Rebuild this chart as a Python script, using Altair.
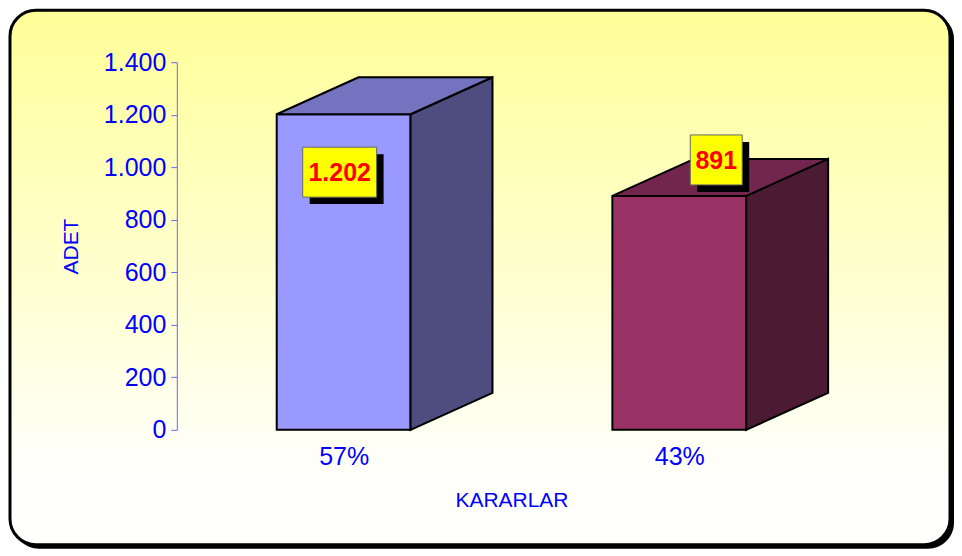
import altair as alt
import pandas as pd

# ---------------- data ----------------
categories = ["57%", "43%"]
values = [1202, 891]
value_labels = ["1.202", "891"]
y_ticks = [0, 200, 400, 600, 800, 1000, 1200, 1400]
front_colors = ["#9999FF", "#993366"]
side_colors = ["#4D4D80", "#4D1A33"]
top_colors = ["#7373BF", "#73264D"]

# ---------------- layout ----------------
W, H, YMAX = 670, 368, 1400
U = YMAX / H                 # value units per pixel
centers = [167, 503]         # bar centres in x-units (pixels)
BAR_W = 134
DX = 82
DY = 37 * U
LABEL_DX = [-4, 37]          # px offset of the label box from bar centre
LABEL_DY = [-58, 36]         # px offset of the label box from bar top
BOX_H = 50

front_rows, side_rows, top_rows, box_rows = [], [], [], []
for i, (cat, v) in enumerate(zip(categories, values)):
    x0 = centers[i] - BAR_W / 2
    x1 = centers[i] + BAR_W / 2
    front_rows.append(dict(cat=cat, x0=x0, x1=x1, y0=0, y1=v, fill=front_colors[i]))
    side_rows += [
        dict(cat=cat, x=x1, y=0, y2=v, fill=side_colors[i]),
        dict(cat=cat, x=x1 + DX, y=DY, y2=v + DY, fill=side_colors[i]),
    ]
    top_rows += [
        dict(cat=cat, y=v, x=x0, x2=x1, fill=top_colors[i]),
        dict(cat=cat, y=v + DY, x=x0 + DX, x2=x1 + DX, fill=top_colors[i]),
    ]
    cx = centers[i] + LABEL_DX[i]
    cy = v + LABEL_DY[i] * U
    bw = len(value_labels[i]) * 11 + 19
    box_rows.append(dict(cat=cat, label=value_labels[i], cx=cx, cy=cy,
                         bx0=cx - bw / 2, bx1=cx + bw / 2,
                         by0=cy - BOX_H / 2 * U, by1=cy + BOX_H / 2 * U,
                         sx0=cx - bw / 2 + 7, sx1=cx + bw / 2 + 7,
                         sy0=cy - BOX_H / 2 * U - 7 * U, sy1=cy + BOX_H / 2 * U - 7 * U))

front_df = pd.DataFrame(front_rows)
side_df = pd.DataFrame(side_rows)
top_df = pd.DataFrame(top_rows)
box_df = pd.DataFrame(box_rows)

xscale = alt.Scale(domain=[0, W], nice=False, zero=False)
yscale = alt.Scale(domain=[0, YMAX], nice=False)

label_expr = "''"
for c, lab in reversed(list(zip(centers, categories))):
    label_expr = f"datum.value == {c} ? '{lab}' : ({label_expr})"

x_axis = alt.Axis(values=centers, labelExpr=label_expr, domain=False, ticks=False,
                  grid=False, title="KARARLAR", labelFontSize=25, labelColor="#0000FF",
                  labelPadding=15, titleFontSize=21, titleColor="#0000FF",
                  titleFontWeight="normal", titlePadding=20, zindex=2)
y_axis = alt.Axis(values=y_ticks, labelExpr="replace(format(datum.value, ','), ',', '.')",
                  grid=False, title="ADET", labelFontSize=25, labelColor="#0000FF",
                  domainColor="#6666FF", tickColor="#6666FF", tickSize=6,
                  labelPadding=5, titleFontSize=21, titleColor="#0000FF",
                  titleFontWeight="normal", titlePadding=22, zindex=2)


def X(field):
    return alt.X(field, scale=xscale, axis=x_axis, title="KARARLAR")


def Y(field):
    return alt.Y(field, scale=yscale, axis=y_axis, title="ADET")


# ---------------- background panel ----------------
bg_data = pd.DataFrame([{"k": 0}])
shadow_bg = alt.Chart(bg_data).mark_rect(color="black", cornerRadius=26).encode(
    x=alt.value(-164), x2=alt.value(778), y=alt.value(-49), y2=alt.value(487)
)
panel = alt.Chart(bg_data).mark_rect(
    cornerRadius=26, stroke="black", strokeWidth=3,
    fill=alt.LinearGradient(
        gradient="linear",
        stops=[alt.GradientStop(color="#FFFF99", offset=0),
               alt.GradientStop(color="#FFFFD0", offset=0.5),
               alt.GradientStop(color="#FFFFFA", offset=0.85),
               alt.GradientStop(color="#FFFFFF", offset=1)],
        x1=0, x2=0, y1=0, y2=1),
).encode(x=alt.value(-167), x2=alt.value(774), y=alt.value(-52), y2=alt.value(483))

# ---------------- bars ----------------
front = alt.Chart(front_df).mark_rect(stroke="black", strokeWidth=2).encode(
    x=X("x0:Q"), x2="x1:Q",
    y=Y("y0:Q"), y2="y1:Q",
    fill=alt.Fill("fill:N", scale=None),
)

side = alt.Chart(side_df).mark_area(stroke="black", strokeWidth=2, opacity=1).encode(
    x=X("x:Q"),
    y=Y("y:Q"), y2="y2:Q",
    fill=alt.Fill("fill:N", scale=None),
    detail="cat:N",
)

top = alt.Chart(top_df).mark_area(orient="horizontal", stroke="black", strokeWidth=2, opacity=1).encode(
    y=Y("y:Q"),
    x=X("x:Q"), x2="x2:Q",
    fill=alt.Fill("fill:N", scale=None),
    detail="cat:N",
)

# ---------------- labels ----------------
box_shadow = alt.Chart(box_df).mark_rect(color="black").encode(
    x=X("sx0:Q"), x2="sx1:Q",
    y=Y("sy0:Q"), y2="sy1:Q",
)
box = alt.Chart(box_df).mark_rect(fill="#FFFF00", stroke="#666666", strokeWidth=1).encode(
    x=X("bx0:Q"), x2="bx1:Q",
    y=Y("by0:Q"), y2="by1:Q",
)
text = alt.Chart(box_df).mark_text(fontSize=25, fontWeight="bold", color="#FF0000",
                                   font="Liberation Sans", baseline="middle", align="center", dy=1).encode(
    x=X("cx:Q"),
    y=Y("cy:Q"),
    text="label:N",
)

chart = alt.layer(shadow_bg, panel, front, side, top, box_shadow, box, text).properties(
    width=W, height=H, padding=0, background="white"
).configure_view(stroke=None).configure(font="Liberation Sans")

chart.save("out.html", embed_options={"renderer": "svg", "actions": False})
